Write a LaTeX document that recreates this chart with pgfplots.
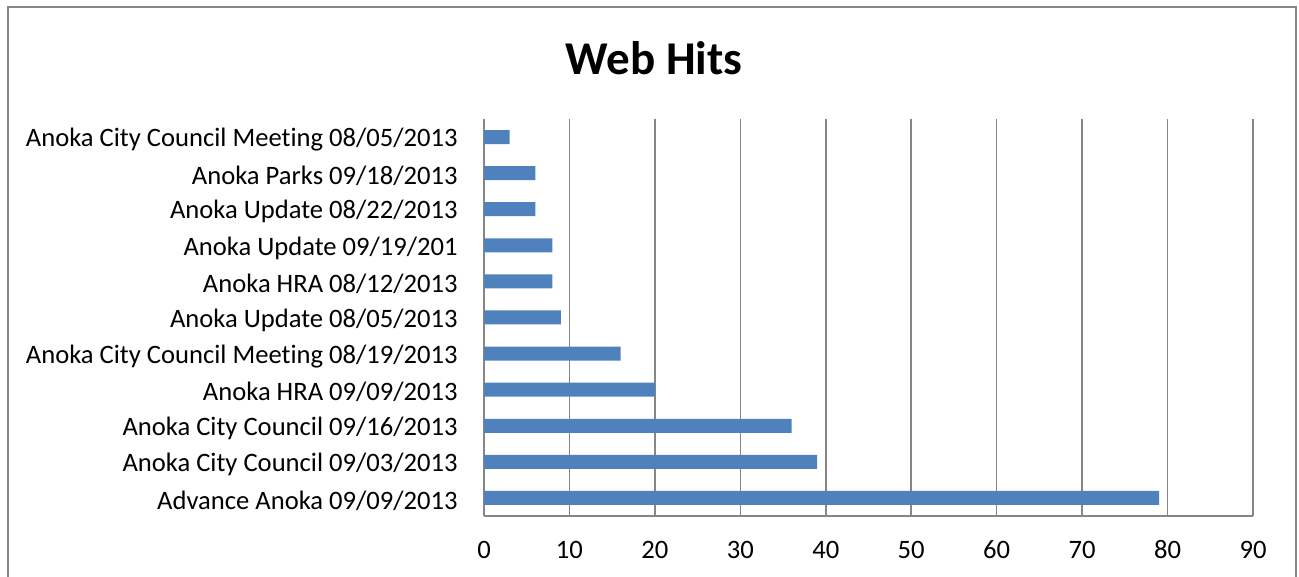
\documentclass[border=0pt]{standalone}
\usepackage{fontspec}
\setmainfont{Carlito}[Ligatures=NoCommon]
\usepackage{pgfplots}
\pgfplotsset{compat=1.18}
\definecolor{barblue}{HTML}{4F81BD}
\definecolor{gridgray}{HTML}{868686}

\begin{document}
\begin{tikzpicture}
% chart frame (bottom edge runs past the page)
\draw[gridgray, line width=0.8pt] (4pt,285pt) rectangle (648pt,-20pt);
\node[font=\bfseries\fontsize{23.5}{28}\selectfont] at (327pt,259.5pt) {Web Hits};
\begin{axis}[
  at={(242pt,30.5pt)}, anchor=south west,
  width=384.5pt, height=198.5pt, scale only axis,
  xbar, bar width=7pt,
  xmin=0, xmax=90, xtick distance=10,
  ymin=-0.5, ymax=10.5,
  ytick={0,...,10},
  yticklabels={Advance Anoka 09/09/2013, Anoka City Council 09/03/2013,
    Anoka City Council 09/16/2013, Anoka HRA 09/09/2013,
    Anoka City Council Meeting 08/19/2013, Anoka Update 08/05/2013,
    Anoka HRA 08/12/2013, Anoka Update 09/19/201, Anoka Update 08/22/2013,
    Anoka Parks 09/18/2013, Anoka City Council Meeting 08/05/2013},
  axis x line*=bottom, axis y line*=left,
  axis line style={draw=gridgray, line width=0.8pt, -},
  xmajorgrids, grid style={gridgray, line width=0.8pt},
  major tick length=0pt,
  tick label style={font=\fontsize{13.3}{16}\selectfont},
  /pgf/number format/assume math mode=true,
  xticklabel style={anchor=center, yshift=-17pt},
  yticklabel style={anchor=east, xshift=-13pt, yshift=-1.3pt, inner sep=0pt},
  clip=false,
]
\addplot[fill=barblue, draw=none] coordinates {
  (79,0) (39,1) (36,2) (20,3) (16,4) (9,5) (8,6) (8,7) (6,8) (6,9) (3,10)};
\end{axis}
\pgfresetboundingbox
\path[use as bounding box] (0,0) rectangle (649.5pt,288.5pt);
\end{tikzpicture}
\end{document}
